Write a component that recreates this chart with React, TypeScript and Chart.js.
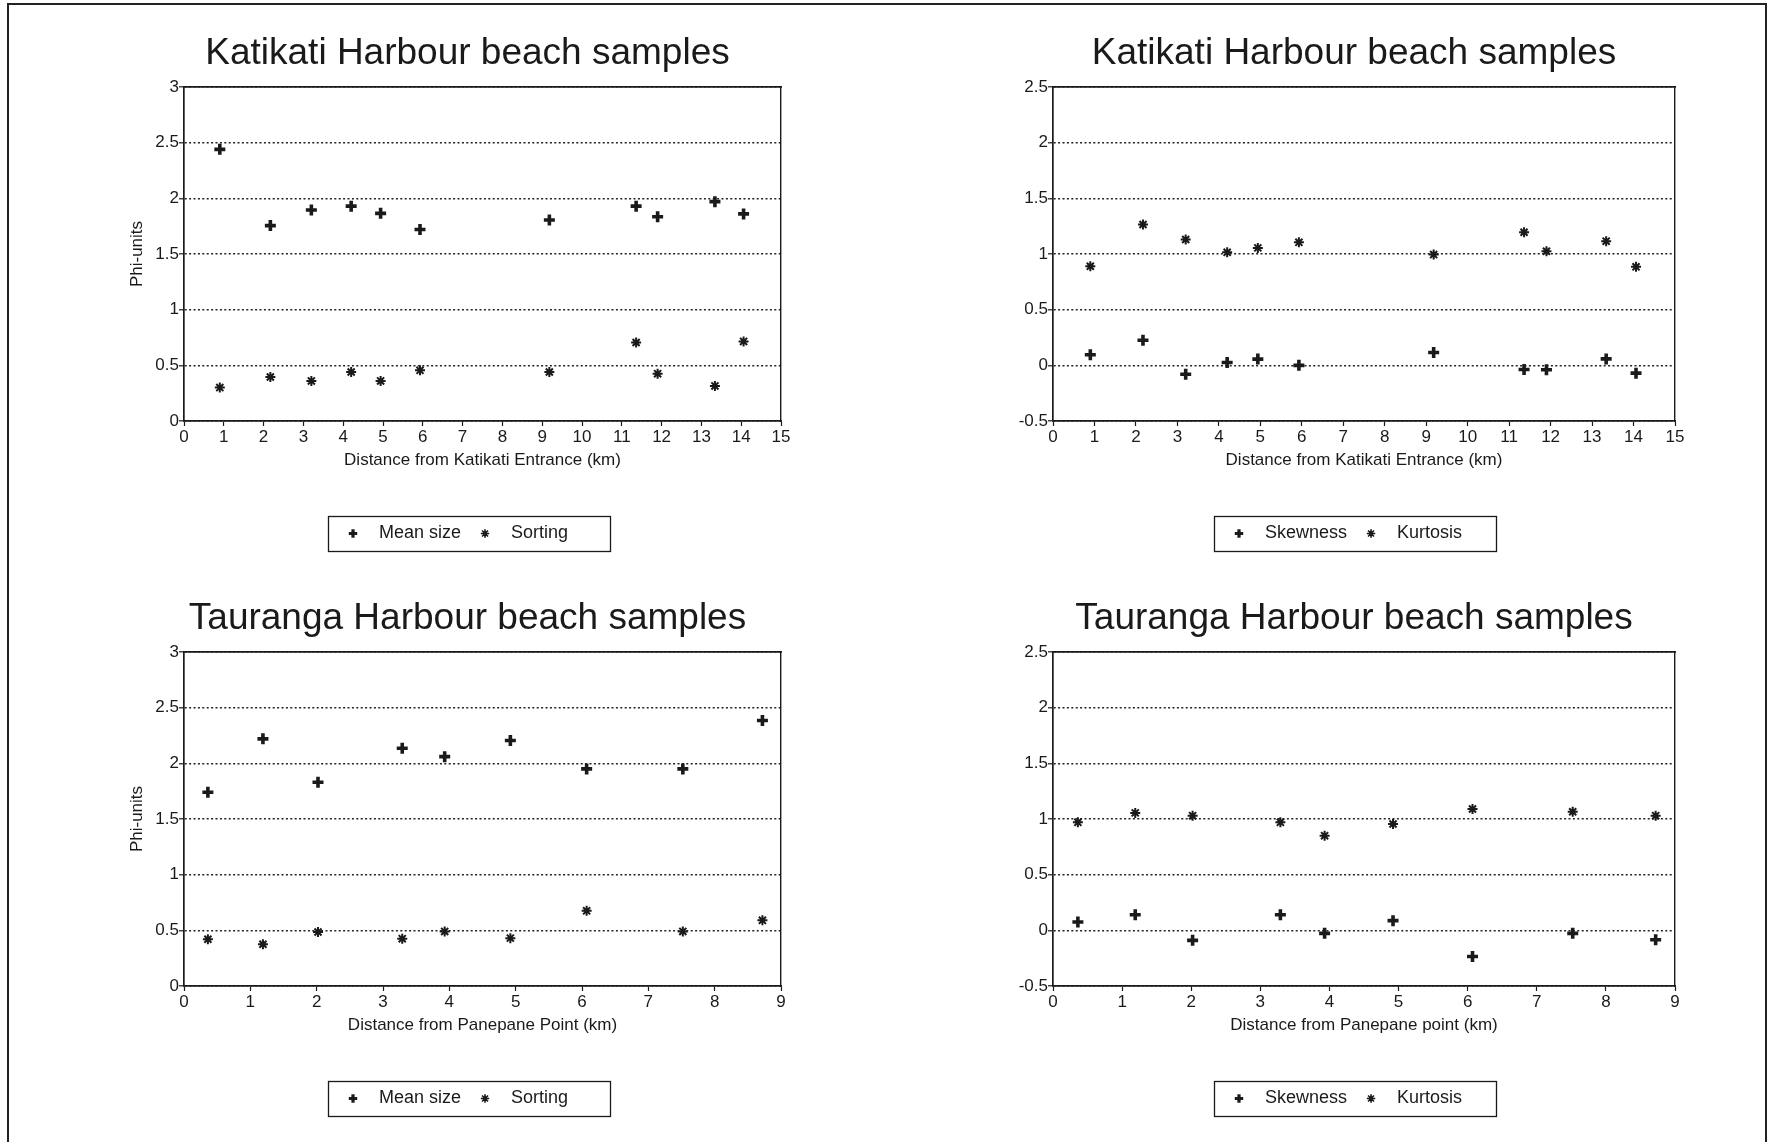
import React, { useEffect, useRef } from "react";
import { Chart, registerables } from "chart.js";
import { drawPoint } from "chart.js/helpers";

Chart.register(...registerables);

// ---- Sample data -------------------------------------------------------

// Katikati Harbour: distance of each beach sample from the entrance (km)
const katikatiKm = [0.9, 2.17, 3.2, 4.2, 4.94, 5.93, 9.18, 11.36, 11.9, 13.34, 14.06];
const katikatiMean = [2.44, 1.755, 1.895, 1.93, 1.865, 1.72, 1.805, 1.93, 1.835, 1.97, 1.86];
const katikatiSorting = [0.3, 0.395, 0.36, 0.44, 0.36, 0.455, 0.44, 0.705, 0.425, 0.315, 0.715];
const katikatiSkewness = [0.095, 0.225, -0.08, 0.025, 0.056, 0.0, 0.115, -0.038, -0.04, 0.058, -0.07];
const katikatiKurtosis = [0.89, 1.265, 1.13, 1.015, 1.055, 1.105, 0.995, 1.195, 1.025, 1.115, 0.885];

// Tauranga Harbour: distance of each beach sample from Panepane Point (km)
const taurangaKm = [0.36, 1.19, 2.02, 3.29, 3.93, 4.92, 6.07, 7.52, 8.72];
const taurangaMean = [1.74, 2.22, 1.83, 2.135, 2.06, 2.205, 1.95, 1.95, 2.385];
const taurangaSorting = [0.42, 0.375, 0.485, 0.425, 0.49, 0.43, 0.675, 0.49, 0.59];
const taurangaSkewness = [0.075, 0.14, -0.09, 0.14, -0.027, 0.087, -0.235, -0.027, -0.085];
const taurangaKurtosis = [0.97, 1.055, 1.03, 0.97, 0.85, 0.955, 1.09, 1.065, 1.03];

// Axis tick values
const phiTicks = [0, 0.5, 1, 1.5, 2, 2.5, 3];
const momentTicks = [-0.5, 0, 0.5, 1, 1.5, 2, 2.5];
const katikatiKmTicks = [0, 1, 2, 3, 4, 5, 6, 7, 8, 9, 10, 11, 12, 13, 14, 15];
const taurangaKmTicks = [0, 1, 2, 3, 4, 5, 6, 7, 8, 9];

// ---- Styling -----------------------------------------------------------

const INK = "#1a1a1a";
const GRID = "#222";
const FONT = "'Liberation Sans', Arial, Helvetica, sans-serif";

type Marker = "cross" | "star";

type Series = { label: string; values: number[]; marker: Marker };

type PanelSpec = {
  title: string;
  xTitle: string;
  yTitle?: string;
  km: number[];
  xTicks: number[];
  yTicks: number[];
  series: Series[];
  left: number;
  top: number;
  width: number;
  height: number;
  plotLeft: number;
  plotRight: number;
};

const markerWidth: Record<Marker, number> = { cross: 3.6, star: 2 };
const markerRadius: Record<Marker, number> = { cross: 5.5, star: 5 };
const legendMarkerWidth: Record<Marker, number> = { cross: 3.2, star: 1.6 };

// Legend drawn as a framed strip below the plot
const boxedLegend = {
  id: "boxedLegend",
  afterDraw(chart: any, _args: any, opts: any) {
    if (!opts || !opts.display) return;
    const ctx: CanvasRenderingContext2D = chart.ctx;
    const left = Math.round(chart.width / 2 - opts.boxWidth / 2 + (opts.shift || 0));
    const top = Math.round(opts.top);
    ctx.save();
    ctx.strokeStyle = INK;
    ctx.lineWidth = 1.3;
    ctx.strokeRect(left + 0.5, top + 0.5, opts.boxWidth, opts.boxHeight);
    ctx.font = `${opts.fontSize}px ${FONT}`;
    ctx.textBaseline = "middle";
    ctx.textAlign = "left";
    const midY = top + opts.boxHeight / 2;
    let x = left + opts.inset;
    chart.data.datasets.forEach((ds: any) => {
      const marker: Marker = ds.pointStyle;
      ctx.strokeStyle = INK;
      ctx.fillStyle = INK;
      ctx.lineWidth = legendMarkerWidth[marker];
      drawPoint(
        ctx,
        { pointStyle: marker, rotation: 0, radius: opts.markerRadius, borderWidth: legendMarkerWidth[marker] } as any,
        x,
        midY
      );
      const tx = x + opts.markerGap;
      ctx.fillStyle = INK;
      ctx.fillText(ds.label, tx, midY);
      x = tx + ctx.measureText(ds.label).width + opts.itemGap;
    });
    ctx.restore();
  },
};

const tickFont = { family: FONT, size: 17, weight: "normal" as const };

function buildConfig(spec: PanelSpec): any {
  const xMin = spec.xTicks[0];
  const xMax = spec.xTicks[spec.xTicks.length - 1];
  const yMin = spec.yTicks[0];
  const yMax = spec.yTicks[spec.yTicks.length - 1];
  const xAxisHeight = 50;
  const plotBottom = 421;

  return {
    type: "scatter",
    data: {
      datasets: spec.series.map((s) => ({
        label: s.label,
        data: spec.km.map((k, i) => ({ x: k, y: s.values[i] })),
        showLine: false,
        pointStyle: s.marker,
        pointRadius: markerRadius[s.marker],
        pointHoverRadius: markerRadius[s.marker],
        pointBorderWidth: markerWidth[s.marker],
        pointBorderColor: INK,
        pointBackgroundColor: INK,
      })),
    },
    options: {
      responsive: false,
      animation: false,
      events: [],
      layout: {
        padding: {
          left: 0,
          top: 0,
          right: 0,
          bottom: spec.height - plotBottom - xAxisHeight,
        },
      },
      plugins: {
        legend: { display: false },
        tooltip: { enabled: false },
        title: {
          display: true,
          text: spec.title,
          color: INK,
          font: { family: FONT, size: 37, weight: "normal", lineHeight: 1.2 },
          padding: { top: 32, bottom: 10.6 },
        },
        boxedLegend: {
          display: true,
          top: 516,
          boxWidth: 282,
          boxHeight: 35,
          inset: 25,
          markerGap: 26,
          itemGap: 24,
          markerRadius: 4.2,
          fontSize: 18,
          shift: 1,
        },
      },
      scales: {
        x: {
          type: "linear",
          position: "bottom",
          min: xMin,
          max: xMax,
          afterBuildTicks: (s: any) => {
            s.ticks = spec.xTicks.map((v) => ({ value: v }));
          },
          afterFit: (s: any) => {
            s.height = xAxisHeight;
          },
          ticks: {
            font: tickFont,
            color: INK,
            padding: 1,
            maxRotation: 0,
            autoSkip: false,
            callback: (v: number) => String(v),
          },
          grid: {
            display: true,
            drawOnChartArea: false,
            drawTicks: true,
            tickLength: 5,
            tickColor: INK,
            tickWidth: 1.2,
          },
          border: { display: true, color: INK, width: 1.7 },
          title: {
            display: true,
            text: spec.xTitle,
            color: INK,
            font: { family: FONT, size: 17, weight: "normal", lineHeight: 1.2 },
            padding: { top: 0, bottom: 0.5 },
          },
        },
        y: {
          type: "linear",
          position: "left",
          min: yMin,
          max: yMax,
          afterBuildTicks: (s: any) => {
            s.ticks = spec.yTicks.map((v) => ({ value: v }));
          },
          afterFit: (s: any) => {
            s.width = spec.plotLeft;
          },
          ticks: {
            font: tickFont,
            color: INK,
            padding: 0,
            autoSkip: false,
            callback: (v: number) => String(v),
          },
          grid: {
            display: true,
            drawOnChartArea: true,
            color: GRID,
            lineWidth: 1.6,
            drawTicks: true,
            tickLength: 5,
            tickColor: INK,
            tickWidth: 1.2,
          },
          border: { display: true, color: INK, width: 1.7, dash: [2, 2.4] },
          title: {
            display: !!spec.yTitle,
            text: spec.yTitle || "",
            color: INK,
            font: { family: FONT, size: 17, weight: "normal", lineHeight: 1.2 },
            padding: { top: 37, bottom: 0 },
          },
        },
        // frame: top edge of the plot box
        xTop: {
          type: "linear",
          position: "top",
          display: true,
          ticks: { display: false },
          grid: { display: true, drawOnChartArea: false, drawTicks: false },
          border: { display: true, color: INK, width: 1.7 },
          afterFit: (s: any) => {
            s.height = 0;
          },
        },
        // frame: right edge of the plot box
        yRight: {
          type: "linear",
          position: "right",
          display: true,
          ticks: { display: false },
          grid: { display: true, drawOnChartArea: false, drawTicks: false },
          border: { display: true, color: INK, width: 1.4 },
          afterFit: (s: any) => {
            s.width = spec.width - spec.plotRight;
          },
        },
      },
    },
    plugins: [boxedLegend],
  };
}

function Panel({ spec }: { spec: PanelSpec }) {
  const ref = useRef<HTMLCanvasElement | null>(null);
  useEffect(() => {
    if (!ref.current) return;
    const chart = new Chart(ref.current, buildConfig(spec));
    return () => chart.destroy();
  }, [spec]);
  return (
    <canvas
      ref={ref}
      width={spec.width}
      height={spec.height}
      style={{
        position: "absolute",
        left: spec.left,
        top: spec.top,
        width: spec.width,
        height: spec.height,
        display: "block",
      }}
    />
  );
}

const meanSortSeries = (mean: number[], sorting: number[]): Series[] => [
  { label: "Mean size", values: mean, marker: "cross" },
  { label: "Sorting", values: sorting, marker: "star" },
];
const skewKurtSeries = (skew: number[], kurt: number[]): Series[] => [
  { label: "Skewness", values: skew, marker: "cross" },
  { label: "Kurtosis", values: kurt, marker: "star" },
];

const panels: PanelSpec[] = [
  {
    title: "Katikati Harbour beach samples",
    xTitle: "Distance from Katikati Entrance (km)",
    yTitle: "Phi-units",
    km: katikatiKm,
    xTicks: katikatiKmTicks,
    yTicks: phiTicks,
    series: meanSortSeries(katikatiMean, katikatiSorting),
    left: 90,
    top: 0,
    width: 755,
    height: 570,
    plotLeft: 94,
    plotRight: 691,
  },
  {
    title: "Katikati Harbour beach samples",
    xTitle: "Distance from Katikati Entrance (km)",
    km: katikatiKm,
    xTicks: katikatiKmTicks,
    yTicks: momentTicks,
    series: skewKurtSeries(katikatiSkewness, katikatiKurtosis),
    left: 960,
    top: 0,
    width: 788,
    height: 570,
    plotLeft: 93,
    plotRight: 715,
  },
  {
    title: "Tauranga Harbour beach samples",
    xTitle: "Distance from Panepane Point (km)",
    yTitle: "Phi-units",
    km: taurangaKm,
    xTicks: taurangaKmTicks,
    yTicks: phiTicks,
    series: meanSortSeries(taurangaMean, taurangaSorting),
    left: 90,
    top: 565,
    width: 755,
    height: 570,
    plotLeft: 94,
    plotRight: 691,
  },
  {
    title: "Tauranga Harbour beach samples",
    xTitle: "Distance from Panepane point (km)",
    km: taurangaKm,
    xTicks: taurangaKmTicks,
    yTicks: momentTicks,
    series: skewKurtSeries(taurangaSkewness, taurangaKurtosis),
    left: 960,
    top: 565,
    width: 788,
    height: 570,
    plotLeft: 93,
    plotRight: 715,
  },
];

export default function App() {
  return (
    <div
      style={{
        position: "absolute",
        left: 0,
        top: 0,
        width: 1769,
        height: 1142,
        overflow: "hidden",
        background: "#fff",
      }}
    >
      <div
        style={{
          position: "absolute",
          left: 7,
          top: 3,
          width: 1760,
          height: 1200,
          boxSizing: "border-box",
          borderTop: "2px solid #222",
          borderLeft: "2px solid #222",
          borderRight: "2px solid #222",
        }}
      />
      {panels.map((p, i) => (
        <Panel key={i} spec={p} />
      ))}
    </div>
  );
}
